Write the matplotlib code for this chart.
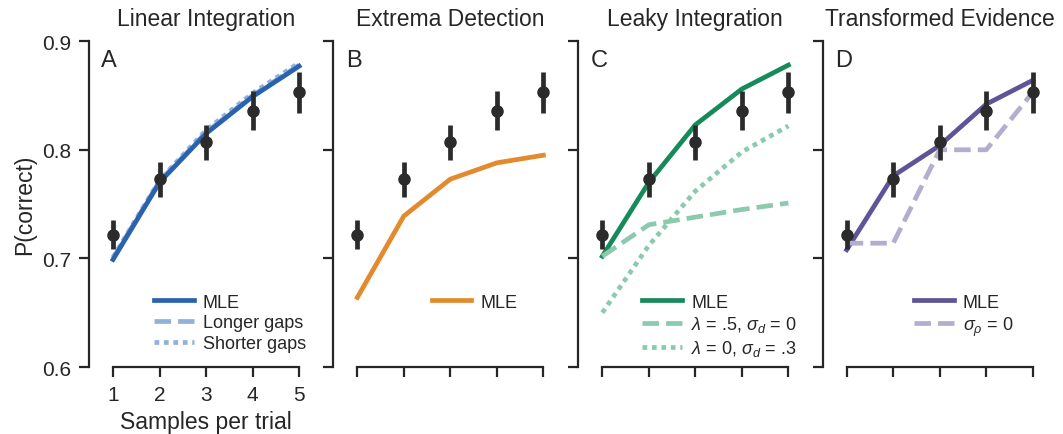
import numpy as np
import matplotlib
matplotlib.use("Agg")
import matplotlib.pyplot as plt

plt.rcParams['font.family'] = ['Liberation Sans', 'DejaVu Sans']
plt.rcParams['mathtext.fontset'] = 'custom'
plt.rcParams['mathtext.it'] = 'Liberation Sans:italic'
plt.rcParams['mathtext.rm'] = 'Liberation Sans'
plt.rcParams['text.color'] = '#262626'
plt.rcParams['axes.labelcolor'] = '#262626'
plt.rcParams['xtick.color'] = '#262626'
plt.rcParams['ytick.color'] = '#262626'

# data
samples = [1, 2, 3, 4, 5]
obs_mean = [0.722, 0.773, 0.807, 0.836, 0.853]
obs_err = [0.013, 0.016, 0.016, 0.018, 0.019]

titles = ["Linear Integration", "Extrema Detection", "Leaky Integration", "Transformed Evidence"]
letters = ["A", "B", "C", "D"]

lin_mle = [0.699, 0.770, 0.815, 0.849, 0.877]
lin_longer = [0.700, 0.771, 0.816, 0.850, 0.878]
lin_shorter = [0.701, 0.772, 0.818, 0.852, 0.880]

ext_mle = [0.664, 0.739, 0.773, 0.788, 0.795]

leak_mle = [0.702, 0.770, 0.823, 0.856, 0.878]
leak_lam5 = [0.702, 0.731, 0.738, 0.745, 0.751]
leak_sig3 = [0.650, 0.712, 0.762, 0.798, 0.822]

trans_mle = [0.708, 0.776, 0.804, 0.842, 0.864]
trans_sig0 = [0.714, 0.714, 0.800, 0.800, 0.853]

blue, blue_l = "#2a62ae", "#91b0da"
orange = "#e38a2f"
green, green_l = "#178a5c", "#8ccaae"
purple, purple_l = "#5f5497", "#b3adcf"

fig = plt.figure(figsize=(10.63, 4.35), dpi=100)
lefts = [0.0954, 0.3252, 0.5557, 0.7856]
axes = [fig.add_axes([l, 0.154, 0.1969, 0.749]) for l in lefts]

lw = 3.4
for i, ax in enumerate(axes):
    ax.errorbar(samples, obs_mean, yerr=obs_err, fmt='o', color='#2b2b2b',
                ms=8, elinewidth=3.4, capsize=0, zorder=5)

ax = axes[0]
ax.plot(samples, lin_mle, color=blue, lw=lw, label="MLE", zorder=3)
ax.plot(samples, lin_longer, color=blue_l, lw=lw, ls=(0, (3.5, 1.5)), label="Longer gaps", zorder=2)
ax.plot(samples, lin_shorter, color=blue_l, lw=lw, ls=(0, (1, 1)), label="Shorter gaps", zorder=2)

ax = axes[1]
ax.plot(samples, ext_mle, color=orange, lw=lw, label="MLE")

ax = axes[2]
ax.plot(samples, leak_mle, color=green, lw=lw, label="MLE")
ax.plot(samples, leak_lam5, color=green_l, lw=lw, ls=(0, (3.5, 1.5)),
        label=r"$\lambda$ = .5, $\sigma_d$ = 0")
ax.plot(samples, leak_sig3, color=green_l, lw=lw, ls=(0, (1, 1)),
        label=r"$\lambda$ = 0, $\sigma_d$ = .3")

ax = axes[3]
ax.plot(samples, trans_mle, color=purple, lw=lw, label="MLE")
ax.plot(samples, trans_sig0, color=purple_l, lw=lw, ls=(0, (3.5, 1.5)),
        label=r"$\sigma_\rho$ = 0")

for i, ax in enumerate(axes):
    ax.set_xlim(0.75, 5.25)
    ax.set_ylim(0.6, 0.9)
    ax.set_xticks(samples)
    ax.set_yticks([0.6, 0.7, 0.8, 0.9])
    ax.spines['top'].set_visible(False)
    ax.spines['right'].set_visible(False)
    ax.spines['left'].set_position(('outward', 9))
    ax.spines['bottom'].set_bounds(1, 5)
    for s in ['left', 'bottom']:
        ax.spines[s].set_linewidth(1.6)
        ax.spines[s].set_color('#262626')
    ax.tick_params(length=7, width=1.6, labelsize=15, pad=6)
    ax.set_title(titles[i], fontsize=16.5, pad=12)
    ax.text(0.0, 0.975, letters[i], transform=ax.transAxes, fontsize=17,
            va='top', ha='left')
    ax.legend(loc='upper center', bbox_to_anchor=(0.615, 0.225),
              frameon=False, fontsize=13, handlelength=2.2, handletextpad=0.5,
              labelspacing=0.2, borderaxespad=0, borderpad=0)
    if i > 0:
        ax.set_yticklabels([])
        ax.set_xticklabels([])

axes[0].set_ylabel("P(correct)", fontsize=16.5)
axes[0].set_xlabel("Samples per trial", fontsize=16.5)

fig.savefig("out.png", dpi=100)
